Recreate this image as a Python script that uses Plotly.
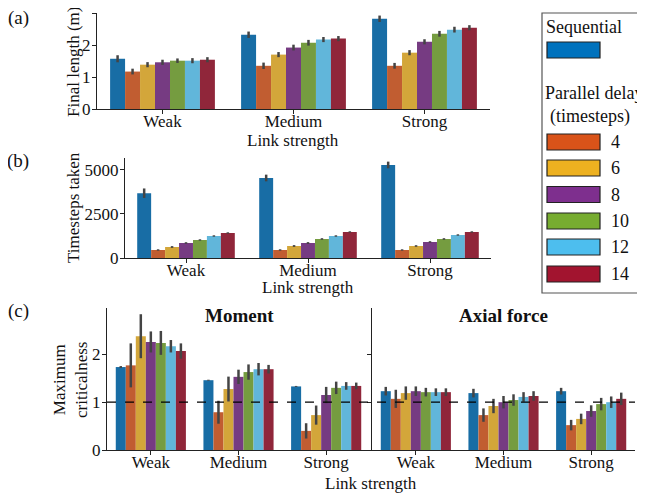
import plotly.graph_objects as go
import colorsys

W, H = 645, 496

categories = ["Weak", "Medium", "Strong"]
series_names = ["Sequential", "4", "6", "8", "10", "12", "14"]
base_colors = ["#0072BD", "#D95319", "#EDB120", "#7E2F8E", "#77AC30", "#4DBEEE", "#A2142F"]

# (a) Final length (m)
length_vals = [
    [1.57, 2.32, 2.82],
    [1.17, 1.35, 1.35],
    [1.385, 1.70, 1.76],
    [1.46, 1.92, 2.10],
    [1.51, 2.07, 2.35],
    [1.51, 2.17, 2.48],
    [1.54, 2.20, 2.54],
]
length_err = [
    [0.11, 0.10, 0.10],
    [0.09, 0.10, 0.09],
    [0.08, 0.08, 0.08],
    [0.08, 0.09, 0.08],
    [0.07, 0.09, 0.09],
    [0.08, 0.08, 0.09],
    [0.08, 0.08, 0.08],
]

# (b) Timesteps taken
steps_vals = [
    [3680, 4545, 5284],
    [455, 455, 455],
    [625, 682, 682],
    [852, 852, 909],
    [1023, 1080, 1080],
    [1250, 1250, 1307],
    [1420, 1477, 1477],
]
steps_err = [
    [270, 190, 190],
    [40, 40, 40],
    [50, 50, 45],
    [45, 50, 45],
    [40, 45, 45],
    [40, 40, 40],
    [40, 40, 40],
]

# (c) Maximum criticalness: Moment
moment_vals = [
    [1.735, 1.46, 1.33],
    [1.77, 0.79, 0.40],
    [2.38, 1.275, 0.73],
    [2.26, 1.53, 1.15],
    [2.24, 1.63, 1.30],
    [2.17, 1.69, 1.34],
    [2.07, 1.69, 1.34],
]
moment_err = [
    [0.02, 0.01, 0.01],
    [0.46, 0.24, 0.16],
    [0.46, 0.26, 0.20],
    [0.22, 0.15, 0.17],
    [0.25, 0.16, 0.13],
    [0.13, 0.13, 0.08],
    [0.16, 0.09, 0.07],
]

# (c) Maximum criticalness: Axial force
axial_vals = [
    [1.23, 1.19, 1.23],
    [1.07, 0.73, 0.52],
    [1.19, 0.92, 0.65],
    [1.23, 1.00, 0.815],
    [1.21, 1.045, 0.96],
    [1.21, 1.11, 1.00],
    [1.21, 1.13, 1.07],
]
axial_err = [
    [0.09, 0.09, 0.07],
    [0.19, 0.14, 0.11],
    [0.14, 0.15, 0.11],
    [0.10, 0.13, 0.12],
    [0.09, 0.12, 0.13],
    [0.08, 0.10, 0.12],
    [0.08, 0.10, 0.13],
]


def desat(hexc, f=0.75):
    r, g, b = (int(hexc[i:i + 2], 16) / 255 for i in (1, 3, 5))
    h, l, s = colorsys.rgb_to_hls(r, g, b)
    r, g, b = colorsys.hls_to_rgb(h, l, s * f)
    return "#%02x%02x%02x" % (round(r * 255), round(g * 255), round(b * 255))


bar_colors = [desat(c) for c in base_colors]

FONT = "Liberation Serif, Times New Roman, Times, serif"
FS = 17
ERRC = "#444444"
OFF = 8  # page body margin offset (screen px)

fig = go.Figure()

panels = [
    (length_vals, length_err, "x", "y"),
    (steps_vals, steps_err, "x2", "y2"),
    (moment_vals, moment_err, "x3", "y3"),
    (axial_vals, axial_err, "x4", "y4"),
]
for vals, errs, xa, ya in panels:
    for i, name in enumerate(series_names):
        fig.add_trace(go.Bar(
            x=categories, y=vals[i], name=name, xaxis=xa, yaxis=ya,
            marker=dict(color=bar_colors[i], line=dict(width=0)),
            error_y=dict(type="data", array=errs[i], color=ERRC, thickness=2.5, width=0),
            showlegend=False,
        ))


def px(x):
    return (x - OFF) / W


def py(y):
    return 1 - (y - OFF) / H


axis_common = dict(
    showline=True, linecolor="#222222", linewidth=1.2,
    ticks="outside", ticklen=4, tickcolor="#222222", tickwidth=1,
    showgrid=False, zeroline=False, automargin=False,
    tickfont=dict(family=FONT, size=FS, color="#111111"),
)

xcat = dict(axis_common, type="category", categoryorder="array",
            categoryarray=categories, range=[-0.5, 2.5], ticklabelstandoff=-8)
yax = dict(axis_common, ticklabelstandoff=-2)

fig.update_layout(
    width=W, height=H,
    margin=dict(l=0, r=0, t=0, b=0, pad=0, autoexpand=False),
    paper_bgcolor="white", plot_bgcolor="white",
    barmode="group", bargap=0.2, bargroupgap=0,
    font=dict(family=FONT, size=FS, color="#111111"),
    showlegend=False,
    xaxis=dict(xcat, domain=[px(97), px(490)], anchor="y"),
    yaxis=dict(yax, domain=[py(109), py(13)], range=[0, 3],
               tickvals=[0, 1, 2, 3], anchor="x"),
    xaxis2=dict(xcat, domain=[px(125), px(491)], anchor="y2"),
    yaxis2=dict(yax, domain=[py(258), py(158)], range=[0, 5680],
                tickvals=[0, 2500, 5000], anchor="x2"),
    xaxis3=dict(xcat, domain=[px(107), px(370)], anchor="y3"),
    yaxis3=dict(yax, domain=[py(450), py(308)], range=[0, 2.97],
                tickvals=[0, 1, 2], anchor="x3"),
    xaxis4=dict(xcat, domain=[px(372), px(635)], anchor="y4"),
    yaxis4=dict(yax, domain=[py(450), py(308)], range=[0, 2.97],
                tickvals=[0, 1, 2], showticklabels=False, anchor="x4"),
)

# dashed reference line at criticalness = 1
fig.add_shape(type="line", xref="paper", yref="y3", x0=px(107), x1=px(635), y0=1, y1=1,
              line=dict(color="black", width=1.3, dash="dash"), layer="above")


def ann(text, x, y, size=FS, bold=False, angle=0, xanchor="center", yanchor="middle"):
    if bold:
        text = "<b>" + text + "</b>"
    fig.add_annotation(text=text, x=px(x), y=py(y), xref="paper", yref="paper",
                       showarrow=False, textangle=angle, xanchor=xanchor, yanchor=yanchor,
                       font=dict(family=FONT, size=size, color="#111111"))


# panel labels
ann("(a)", 18, 18, size=19)
ann("(b)", 18, 161, size=19)
ann("(c)", 18, 311, size=19)
# axis titles
ann("Link strength", 293, 141)
ann("Link strength", 308, 287)
ann("Link strength", 371, 483)
ann("Final length (m)", 73, 62, angle=-90)
ann("Timesteps taken", 73, 208, angle=-90)
ann("Maximum<br>criticalness", 70, 380, angle=-90)
# subplot titles
ann("Moment", 239, 315, size=19, bold=True)
ann("Axial force", 503, 315, size=19, bold=True)

# legend (drawn manually)
LFS = 18
fig.add_shape(type="rect", xref="paper", yref="paper",
              x0=px(542), x1=px(660), y0=py(293), y1=py(13),
              line=dict(color="#555555", width=1.2), fillcolor="white", layer="below")
ann("Sequential", 544, 27, size=LFS, xanchor="left")
ann("Parallel delay", 543, 93, size=LFS, xanchor="left")
ann("(timesteps)", 590, 117, size=LFS)
sw_y = [50, 142, 168, 194.5, 221, 247, 274]
for i, name in enumerate(series_names):
    yc = sw_y[i]
    fig.add_shape(type="rect", xref="paper", yref="paper",
                  x0=px(547), x1=px(600), y0=py(yc + 8), y1=py(yc - 8),
                  line=dict(color="#222222", width=1.2), fillcolor=base_colors[i])
    if i > 0:
        ann(name, 609, yc, size=LFS, xanchor="left")

fig.write_html("out.html")
